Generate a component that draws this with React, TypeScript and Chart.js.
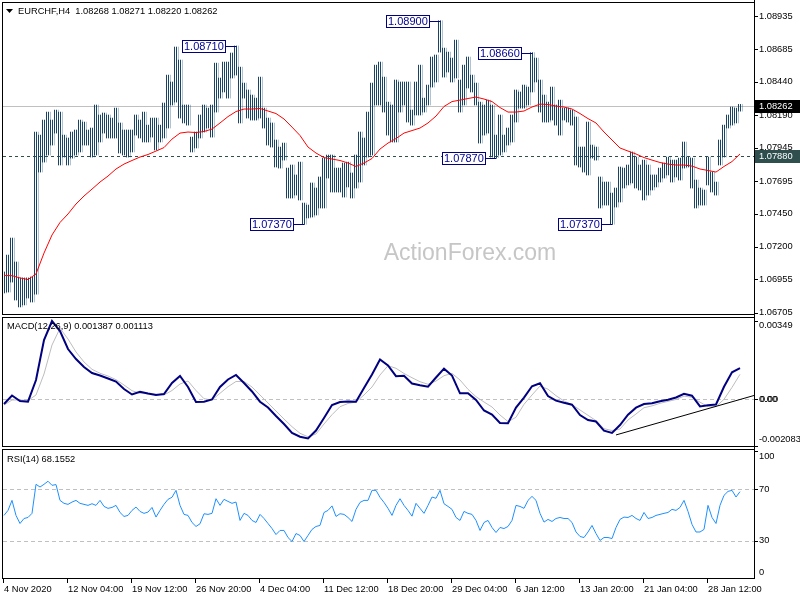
import React, { useEffect, useRef } from "react";
import { Chart, registerables } from "chart.js";

Chart.register(...registerables);

// ---------- texts ----------
const SYMBOL_HEADER = "EURCHF,H4  1.08268 1.08271 1.08220 1.08262";
const MACD_HEADER = "MACD(12,26,9) 0.001387 0.001113";
const RSI_HEADER = "RSI(14) 68.1552";
const WATERMARK = "ActionForex.com";

// ---------- price bars (each bar = one 8-hour slot, high / low) ----------
const barHigh = [
  1.07011, 1.07138, 1.07266, 1.07086, 1.06966, 1.06966, 1.06966, 1.06973, 1.08063, 1.0804,
  1.08153, 1.08213, 1.08153, 1.08228, 1.08213, 1.0804, 1.08018, 1.08063, 1.08078, 1.08153,
  1.08138, 1.08078, 1.08093, 1.08266, 1.08191, 1.08206, 1.08191, 1.08168, 1.08243, 1.08131,
  1.08078, 1.08078, 1.08078, 1.08191, 1.08153, 1.08213, 1.08115, 1.08168, 1.08168, 1.08115,
  1.08281, 1.08491, 1.08439, 1.08702, 1.08604, 1.08266, 1.08266, 1.08025, 1.08063, 1.08191,
  1.08266, 1.08243, 1.08266, 1.08581, 1.08469, 1.08589, 1.08589, 1.08657, 1.0871, 1.08551,
  1.08431, 1.08379, 1.08341, 1.08318, 1.08476, 1.08243, 1.08168, 1.08131, 1.08003, 1.0795,
  1.0798, 1.07792, 1.07815, 1.0774, 1.07837, 1.07529, 1.07514, 1.0768, 1.07642, 1.07725,
  1.07867, 1.0789, 1.0789, 1.07792, 1.07792, 1.0783, 1.07837, 1.07755, 1.0789, 1.08063,
  1.08018, 1.08213, 1.08431, 1.08566, 1.08589, 1.08476, 1.08288, 1.08266, 1.08454, 1.08439,
  1.08439, 1.08439, 1.08228, 1.08439, 1.08566, 1.08318, 1.08416, 1.08627, 1.08642, 1.089,
  1.08694, 1.08664, 1.08619, 1.08754, 1.08454, 1.08566, 1.08627, 1.08491, 1.08431, 1.08288,
  1.08266, 1.08303, 1.08266, 1.0804, 1.08191, 1.0804, 1.08093, 1.08191, 1.08379, 1.08364,
  1.08416, 1.08401, 1.0866, 1.08619, 1.08454, 1.08341, 1.08288, 1.08401, 1.08266, 1.08303,
  1.08243, 1.08243, 1.08228, 1.08176, 1.0795, 1.0795, 1.08138, 1.07965, 1.0795, 1.07725,
  1.07687, 1.07687, 1.07604, 1.07642, 1.078, 1.07792, 1.07815, 1.07913, 1.07875, 1.07815,
  1.07852, 1.07815, 1.0774, 1.0774, 1.07792, 1.0783, 1.07875, 1.07852, 1.07852, 1.07867,
  1.07988, 1.07875, 1.07867, 1.07702, 1.07642, 1.07627, 1.07875, 1.07762, 1.07687, 1.08003,
  1.08115, 1.08191, 1.08251, 1.08243, 1.08271,
];
const barLow = [
  1.06853, 1.0686, 1.06935, 1.068, 1.06748, 1.06763, 1.06815, 1.06785, 1.06845, 1.07762,
  1.07837, 1.0789, 1.07965, 1.08055, 1.07815, 1.07875, 1.07815, 1.07867, 1.0789, 1.07913,
  1.07965, 1.07965, 1.07875, 1.0789, 1.07988, 1.08055, 1.08018, 1.08018, 1.08018, 1.07905,
  1.0789, 1.07875, 1.07913, 1.0804, 1.08018, 1.07988, 1.07988, 1.08025, 1.07928, 1.07988,
  1.08018, 1.08093, 1.08266, 1.08288, 1.08168, 1.08131, 1.08115, 1.07913, 1.07943, 1.08018,
  1.08063, 1.08093, 1.08025, 1.08213, 1.08318, 1.08364, 1.08318, 1.08469, 1.08491, 1.08131,
  1.08318, 1.08168, 1.08153, 1.08153, 1.08168, 1.08093, 1.07965, 1.0795, 1.078, 1.07792,
  1.07852, 1.07567, 1.07567, 1.07589, 1.07552, 1.0737, 1.07417, 1.07424, 1.07439, 1.07492,
  1.07492, 1.07717, 1.07612, 1.07612, 1.07612, 1.07574, 1.0765, 1.07567, 1.07642, 1.07687,
  1.07815, 1.07875, 1.0789, 1.08266, 1.08266, 1.08213, 1.0804, 1.07988, 1.07988, 1.08213,
  1.08266, 1.08138, 1.08115, 1.08191, 1.08191, 1.08213, 1.08266, 1.08401, 1.08439, 1.08664,
  1.08476, 1.08514, 1.08439, 1.08469, 1.08213, 1.08266, 1.08394, 1.08364, 1.08266, 1.0798,
  1.0804, 1.08055, 1.07875, 1.0787, 1.0789, 1.07913, 1.07965, 1.07988, 1.08138, 1.08243,
  1.08243, 1.08266, 1.08364, 1.08439, 1.08213, 1.08138, 1.08138, 1.08153, 1.08115, 1.0804,
  1.08153, 1.08138, 1.08115, 1.07815, 1.078, 1.07762, 1.0774, 1.07867, 1.07852, 1.07492,
  1.07514, 1.07514, 1.0737, 1.07499, 1.07537, 1.07642, 1.07665, 1.0768, 1.07642, 1.07627,
  1.07552, 1.07589, 1.07627, 1.0765, 1.07687, 1.07717, 1.0774, 1.07687, 1.07725, 1.07702,
  1.07792, 1.078, 1.07642, 1.07492, 1.07514, 1.07514, 1.07665, 1.07612, 1.07589, 1.07815,
  1.07875, 1.08093, 1.08115, 1.08131, 1.0822,
];

// ---------- moving average, MACD, signal (one value every 2 bars) ----------
const maValues = [
  1.06984, 1.06983, 1.06966, 1.06954, 1.06996, 1.07153, 1.07289, 1.07383, 1.07447, 1.07522,
  1.07582, 1.07634, 1.07687, 1.07732, 1.07785, 1.07822, 1.07849, 1.07875, 1.07894, 1.0792,
  1.07946, 1.0801, 1.08055, 1.08063, 1.08059, 1.08067, 1.08085, 1.08131, 1.08179, 1.08217,
  1.08236, 1.08236, 1.0824, 1.08221, 1.08202, 1.08161, 1.081, 1.08037, 1.0795, 1.07905,
  1.07871, 1.0786, 1.07849, 1.0783, 1.07804, 1.0783, 1.07864, 1.07935, 1.0798, 1.08014,
  1.08055, 1.08074, 1.08093, 1.08131, 1.08183, 1.08255, 1.08292, 1.08303, 1.08315, 1.08326,
  1.08311, 1.08292, 1.08247, 1.08213, 1.08213, 1.08221, 1.08251, 1.08273, 1.0827, 1.08258,
  1.08251, 1.08236, 1.08202, 1.08164, 1.08131, 1.08063, 1.08003, 1.07943, 1.0792, 1.07898,
  1.07871, 1.07852, 1.07834, 1.07822, 1.07815, 1.07815, 1.07807, 1.07785, 1.07774, 1.07762,
  1.07804, 1.07841, 1.07898,
];
const macdValues = [
  -0.00021, 0.000169, -0.000076, -0.000107, 0.000861, 0.002645, 0.00349, 0.003046, 0.002243, 0.001797,
  0.001441, 0.001173, 0.001061, 0.000928, 0.000794, 0.000459, 0.000214, 0.000339, 0.000259, 0.000192,
  0.000236, 0.000727, 0.001039, 0.000549, -0.00012, -0.000107, -0.000009, 0.000549, 0.000883, 0.001084,
  0.000727, 0.000348, -0.000107, -0.000366, -0.000745, -0.001102, -0.001503, -0.001668, -0.001748, -0.001392,
  -0.000834, -0.000254, -0.00012, -0.000103, -0.000112, 0.000504, 0.001106, 0.001775, 0.001507, 0.00103,
  0.001048, 0.000705, 0.000624, 0.000562, 0.000972, 0.001365, 0.001061, 0.000268, 0.000268, -0.000031,
  -0.0005, -0.000678, -0.001057, -0.00107, -0.000366, 0.000076, 0.00058, 0.000714, 0.000147, -0.000062,
  -0.000156, -0.000241, -0.0007, -0.000923, -0.00099, -0.0014, -0.001503, -0.001146, -0.000687, -0.000375,
  -0.00021, -0.000174, -0.000085, -0.000018, 0.00008, 0.000241, 0.000161, -0.000317, -0.000263, -0.000232,
  0.000558, 0.001204, 0.001387,
];
const signalValues = [
  -0.000254, -0.000031, -0.000031, -0.000054, 0.000192, 0.001128, 0.002422, 0.003167, 0.002689, 0.00211,
  0.001664, 0.001338, 0.00116, 0.001039, 0.000874, 0.000638, 0.000384, 0.000268, 0.000245, 0.000227,
  0.000192, 0.000392, 0.000682, 0.000816, 0.000392, 0.000027, -0.000031, 0.000268, 0.000562, 0.000794,
  0.000794, 0.000549, 0.000192, -0.000165, -0.000522, -0.000879, -0.001222, -0.001516, -0.001673, -0.001548,
  -0.001102, -0.000687, -0.00033, -0.000187, -0.00012, 0.000192, 0.000549, 0.001084, 0.001499, 0.001383,
  0.001151, 0.000963, 0.000785, 0.000669, 0.000816, 0.001053, 0.001155, 0.000861, 0.000446, 0.000116,
  -0.00012, -0.000343, -0.0007, -0.000995, -0.000803, -0.000223, 0.000192, 0.000593, 0.00045, 0.000161,
  -0.000076, -0.000236, -0.000477, -0.000714, -0.000954, -0.001311, -0.001392, -0.001325, -0.000923, -0.000656,
  -0.000375, -0.000294, -0.000178, -0.000094, -0.000009, 0.000143, 0.000089, -0.000129, -0.00033, -0.00033,
  0.0, 0.000531, 0.001113,
];
const trendX = [153, 187.5];
const trendY = [-0.00159, 0.00017];

// ---------- RSI (one value per bar) ----------
const rsiValues = [
  49.7, 53.6, 61.4, 49.7, 43.4, 47.3, 48.1, 51.3, 73.9, 71.8,
  73.9, 76.3, 73.1, 73.7, 61.4, 59.1, 58.3, 60.1, 61.4, 59.1,
  58.3, 57.5, 58.8, 57.5, 61.4, 56.7, 55.2, 55.9, 57.5, 52.0,
  48.9, 49.7, 53.6, 56.2, 52.8, 51.3, 52.3, 55.9, 48.4, 53.6,
  58.3, 62.2, 63.8, 69.2, 57.5, 50.5, 49.7, 44.2, 41.1, 43.2,
  51.0, 50.5, 51.3, 62.7, 57.5, 62.2, 60.6, 59.1, 60.1, 45.8,
  51.3, 49.7, 45.8, 44.2, 50.5, 47.3, 43.4, 39.5, 34.8, 38.0,
  38.0, 32.5, 29.4, 35.6, 34.1, 29.4, 34.1, 38.8, 41.1, 41.9,
  52.0, 53.6, 57.1, 48.9, 51.0, 50.5, 48.1, 45.0, 54.4, 59.8,
  61.4, 61.4, 69.2, 69.2, 63.8, 59.8, 55.2, 49.7, 57.5, 62.7,
  57.5, 53.6, 49.1, 59.1, 55.2, 51.3, 57.5, 64.0, 63.0, 69.2,
  58.8, 56.7, 54.4, 48.1, 45.8, 52.8, 51.3, 50.5, 45.8, 38.0,
  44.2, 45.8, 40.3, 36.4, 40.3, 39.5, 41.1, 45.8, 57.5, 56.7,
  55.2, 61.4, 64.5, 61.4, 51.3, 44.5, 46.6, 45.0, 47.3, 48.1,
  47.3, 47.3, 44.2, 36.8, 33.3, 32.5, 36.8, 41.9, 35.6, 30.2,
  32.5, 32.5, 31.7, 40.3, 46.6, 48.4, 48.1, 49.7, 47.3, 45.8,
  52.0, 47.3, 48.1, 49.7, 50.5, 51.3, 52.0, 54.4, 53.6, 55.9,
  61.4, 52.8, 42.7, 36.8, 36.8, 38.8, 57.5, 48.1, 43.4, 57.5,
  65.3, 68.4, 69.2, 64.0, 68.2,
];

// ---------- axes ----------
const priceTicks = [1.08935, 1.08685, 1.0844, 1.0819, 1.07945, 1.07695, 1.0745, 1.072, 1.06955, 1.06705];
const priceTickLabels = ["1.08935", "1.08685", "1.08440", "1.08190", "1.07945", "1.07695", "1.07450", "1.07200", "1.06955", "1.06705"];
const macdTickValues = [0.00349, 0, -0.002083];
const macdTickLabels = ["0.00349", "0.00", "-0.002083"];
const rsiTickValues = [100, 70, 30, 0];
const rsiTickLabels = ["100", "70", "30", "0"];
const rsiLevels = [70, 30];
const xTickLabels = [
  "4 Nov 2020", "12 Nov 04:00", "19 Nov 12:00", "26 Nov 20:00", "4 Dec 04:00", "11 Dec 12:00",
  "18 Dec 20:00", "29 Dec 04:00", "6 Jan 12:00", "13 Jan 20:00", "21 Jan 04:00", "28 Jan 12:00",
];
const BARS_PER_XTICK = 16;
const MA_STEP = 2;

const CURRENT_PRICE = 1.08262;
const CURRENT_LABEL = "1.08262";
const LEVEL_PRICE = 1.0788;
const LEVEL_LABEL = "1.07880";

// swing-point labels
const noteTexts = ["1.08710", "1.07370", "1.08900", "1.07870", "1.08660", "1.07370"];
const noteBars = [58, 75, 109, 123, 132, 152];
const notePrices = [1.0871, 1.0737, 1.089, 1.0787, 1.0866, 1.0737];

const X_MIN = -0.25;
const X_MAX = 187.5;
const PRICE_MIN = 1.06695;
const PRICE_MAX = 1.09033;
const MACD_MIN = -0.002083;
const MACD_MAX = 0.003626;
const RSI_MIN = 1;
const RSI_MAX = 100.6;

const FONT = '"Liberation Sans", Arial, sans-serif';
const BAR_COLOR = "#184466";

// each 4px bar slot is filled with 1px vertical stripes (two bar strokes per slot)
function makeStripePattern(ctx: CanvasRenderingContext2D): CanvasPattern | string {
  const pc = document.createElement("canvas");
  pc.width = 2;
  pc.height = 1;
  const pctx = pc.getContext("2d");
  if (!pctx) return BAR_COLOR;
  pctx.fillStyle = BAR_COLOR;
  pctx.fillRect(0, 0, 1, 1);
  const pat = ctx.createPattern(pc, "repeat");
  return pat || BAR_COLOR;
}

function baseOptions(padding: any, yMin: number, yMax: number): any {
  return {
    animation: false,
    responsive: false,
    devicePixelRatio: 1,
    events: [],
    layout: { padding },
    plugins: { legend: { display: false }, tooltip: { enabled: false } },
    scales: {
      x: { type: "linear", min: X_MIN, max: X_MAX, offset: false, display: false },
      y: { type: "linear", min: yMin, max: yMax, display: false },
    },
  };
}

function drawFrame(ctx: CanvasRenderingContext2D, a: any, axisTop: number, axisBottom: number) {
  ctx.save();
  ctx.strokeStyle = "#000";
  ctx.lineWidth = 1;
  ctx.setLineDash([]);
  ctx.strokeRect(a.left - 0.5, a.top - 0.5, a.right - a.left + 1, a.bottom - a.top + 1);
  ctx.beginPath();
  ctx.moveTo(a.right + 0.5, axisTop);
  ctx.lineTo(a.right + 0.5, axisBottom);
  ctx.stroke();
  ctx.restore();
}

function drawAxisLabels(
  ctx: CanvasRenderingContext2D,
  a: any,
  scale: any,
  values: number[],
  labels: string[],
  clampTop: number,
  clampBottom: number
) {
  ctx.save();
  ctx.font = "9.3px " + FONT;
  ctx.fillStyle = "#000";
  ctx.strokeStyle = "#000";
  ctx.lineWidth = 1;
  ctx.textAlign = "left";
  ctx.textBaseline = "middle";
  values.forEach((v, i) => {
    const py = scale.getPixelForValue(v);
    const ty = Math.min(Math.max(py, a.top + clampTop), a.bottom - clampBottom);
    const ry = Math.round(py) + 0.5;
    if (py >= a.top && py <= a.bottom) {
      ctx.beginPath();
      ctx.moveTo(a.right + 1, ry);
      ctx.lineTo(a.right + 4, ry);
      ctx.stroke();
    }
    ctx.fillText(labels[i], a.right + 5, ty);
  });
  ctx.restore();
}

function drawHeader(ctx: CanvasRenderingContext2D, text: string, x: number, y: number) {
  ctx.save();
  ctx.font = "9.3px " + FONT;
  ctx.fillStyle = "#000";
  ctx.textAlign = "left";
  ctx.textBaseline = "middle";
  ctx.fillText(text, x, y);
  ctx.restore();
}

function dashedLevel(ctx: CanvasRenderingContext2D, a: any, py: number, color: string, dash: number[]) {
  const ry = Math.round(py) + 0.5;
  ctx.save();
  ctx.strokeStyle = color;
  ctx.lineWidth = 1;
  ctx.setLineDash(dash);
  ctx.beginPath();
  ctx.moveTo(a.left, ry);
  ctx.lineTo(a.right, ry);
  ctx.stroke();
  ctx.restore();
}

const mainDecor = {
  id: "mainDecor",
  beforeDatasetsDraw(chart: any) {
    const { ctx, chartArea: a, scales } = chart;
    const y = scales.y;
    ctx.save();
    ctx.font = "23px " + FONT;
    ctx.fillStyle = "#c6c6c6";
    ctx.textAlign = "center";
    ctx.textBaseline = "middle";
    ctx.fillText(WATERMARK, 470, 254);
    ctx.restore();
    dashedLevel(ctx, a, y.getPixelForValue(CURRENT_PRICE), "#c0c0c0", []);
    dashedLevel(ctx, a, y.getPixelForValue(LEVEL_PRICE), "#2f4f4f", [3, 3]);
  },
  afterDraw(chart: any) {
    const { ctx, chartArea: a, scales, height } = chart;
    const x = scales.x;
    const y = scales.y;
    drawFrame(ctx, a, 0, height);
    drawAxisLabels(ctx, a, y, priceTicks, priceTickLabels, -20, -20);

    // price highlight boxes on the axis
    const boxes = [
      { v: CURRENT_PRICE, t: CURRENT_LABEL, bg: "#000000" },
      { v: LEVEL_PRICE, t: LEVEL_LABEL, bg: "#2f4f4f" },
    ];
    ctx.save();
    ctx.font = "9.3px " + FONT;
    ctx.textAlign = "left";
    ctx.textBaseline = "middle";
    boxes.forEach((b) => {
      const py = Math.round(y.getPixelForValue(b.v));
      ctx.fillStyle = b.bg;
      ctx.fillRect(a.right + 1, py - 6, 45, 13);
      ctx.fillStyle = "#ffffff";
      ctx.fillText(b.t, a.right + 5, py + 0.5);
    });
    ctx.restore();

    // swing labels
    ctx.save();
    ctx.font = "11px " + FONT;
    ctx.textBaseline = "middle";
    ctx.textAlign = "left";
    noteTexts.forEach((t, i) => {
      const bx = Math.round(x.getPixelForValue(noteBars[i]));
      const py = Math.round(y.getPixelForValue(notePrices[i]));
      const tw = ctx.measureText(t).width;
      const w = Math.round(tw + 4);
      const h = 13;
      const right = bx - 10;
      const left = right - w;
      const top = py - 6;
      ctx.fillStyle = "#ffffff";
      ctx.fillRect(left, top, w, h);
      ctx.strokeStyle = "#000080";
      ctx.lineWidth = 1;
      ctx.strokeRect(left + 0.5, top + 0.5, w - 1, h - 1);
      ctx.beginPath();
      ctx.moveTo(right, py + 0.5);
      ctx.lineTo(bx + 0.5, py + 0.5);
      ctx.stroke();
      ctx.fillStyle = "#000090";
      ctx.fillText(t, left + 2, py + 1);
    });
    ctx.restore();

    // header
    ctx.save();
    ctx.fillStyle = "#000";
    ctx.beginPath();
    ctx.moveTo(a.left + 3, a.top + 6);
    ctx.lineTo(a.left + 10, a.top + 6);
    ctx.lineTo(a.left + 6.5, a.top + 10);
    ctx.closePath();
    ctx.fill();
    ctx.restore();
    drawHeader(ctx, SYMBOL_HEADER, a.left + 15, a.top + 8);
  },
};

const macdDecor = {
  id: "macdDecor",
  beforeDatasetsDraw(chart: any) {
    const { ctx, chartArea: a, scales } = chart;
    dashedLevel(ctx, a, scales.y.getPixelForValue(0), "#c0c0c0", [4, 3]);
  },
  afterDraw(chart: any) {
    const { ctx, chartArea: a, scales, height } = chart;
    drawFrame(ctx, a, 0, height);
    drawAxisLabels(ctx, a, scales.y, macdTickValues, macdTickLabels, 7, 7);
    // the zero value is printed twice in the platform (level + value)
    ctx.save();
    ctx.font = "9.3px " + FONT;
    ctx.fillStyle = "#000";
    ctx.textBaseline = "middle";
    ctx.fillText(macdTickLabels[1], a.right + 6, scales.y.getPixelForValue(0));
    ctx.restore();
    drawHeader(ctx, MACD_HEADER, a.left + 4, a.top + 8);
  },
};

const rsiDecor = {
  id: "rsiDecor",
  beforeDatasetsDraw(chart: any) {
    const { ctx, chartArea: a, scales } = chart;
    rsiLevels.forEach((lv) => dashedLevel(ctx, a, scales.y.getPixelForValue(lv), "#c0c0c0", [4, 3]));
  },
  afterDraw(chart: any) {
    const { ctx, chartArea: a, scales } = chart;
    drawFrame(ctx, a, 0, a.bottom + 1);
    drawAxisLabels(ctx, a, scales.y, rsiTickValues, rsiTickLabels, 6, 6);
    drawHeader(ctx, RSI_HEADER, a.left + 4, a.top + 9);
    // time axis
    ctx.save();
    ctx.strokeStyle = "#000";
    ctx.lineWidth = 1;
    ctx.fillStyle = "#000";
    ctx.font = "9.3px " + FONT;
    ctx.textAlign = "left";
    ctx.textBaseline = "middle";
    xTickLabels.forEach((lab, k) => {
      const px = Math.round(scales.x.getPixelForValue(X_MIN + k * BARS_PER_XTICK));
      ctx.beginPath();
      ctx.moveTo(px + 0.5, a.bottom + 1);
      ctx.lineTo(px + 0.5, a.bottom + 5);
      ctx.stroke();
      ctx.fillText(lab, px + 1, a.bottom + 11);
    });
    ctx.restore();
  },
};

function mainConfig(ctx: CanvasRenderingContext2D): any {
  return {
    type: "bar",
    data: {
      datasets: [
        {
          type: "bar",
          data: barHigh.map((h, i) => ({ x: i, y: [barLow[i], h] })),
          backgroundColor: makeStripePattern(ctx),
          borderWidth: 0,
          barThickness: 4,
          grouped: false,
          order: 3,
        },
        {
          type: "line",
          data: maValues.map((v, k) => ({ x: k * MA_STEP, y: v })),
          borderColor: "#ff0000",
          borderWidth: 1,
          pointRadius: 0,
          tension: 0,
          fill: false,
          order: 1,
        },
      ],
    },
    options: baseOptions({ left: 3, right: 46, top: 3, bottom: 3 }, PRICE_MIN, PRICE_MAX),
    plugins: [mainDecor],
  };
}

function macdConfig(): any {
  return {
    type: "line",
    data: {
      datasets: [
        {
          data: signalValues.map((v, k) => ({ x: k * MA_STEP, y: v })),
          borderColor: "#bdbdbd",
          borderWidth: 1,
          pointRadius: 0,
          tension: 0,
          fill: false,
          order: 3,
        },
        {
          data: macdValues.map((v, k) => ({ x: k * MA_STEP, y: v })),
          borderColor: "#000080",
          borderWidth: 2,
          pointRadius: 0,
          tension: 0,
          fill: false,
          order: 2,
        },
        {
          data: trendX.map((v, k) => ({ x: v, y: trendY[k] })),
          borderColor: "#000000",
          borderWidth: 1,
          pointRadius: 0,
          fill: false,
          order: 1,
        },
      ],
    },
    options: baseOptions({ left: 3, right: 46, top: 1, bottom: 2 }, MACD_MIN, MACD_MAX),
    plugins: [macdDecor],
  };
}

function rsiConfig(): any {
  return {
    type: "line",
    data: {
      datasets: [
        {
          data: rsiValues.map((v, i) => ({ x: i, y: v })),
          borderColor: "#1e90ff",
          borderWidth: 1,
          pointRadius: 0,
          tension: 0,
          fill: false,
        },
      ],
    },
    options: baseOptions({ left: 3, right: 46, top: 2, bottom: 22 }, RSI_MIN, RSI_MAX),
    plugins: [rsiDecor],
  };
}

export default function App() {
  const mainRef = useRef<HTMLCanvasElement | null>(null);
  const macdRef = useRef<HTMLCanvasElement | null>(null);
  const rsiRef = useRef<HTMLCanvasElement | null>(null);

  useEffect(() => {
    const charts: Chart[] = [];
    if (mainRef.current) {
      const ctx = mainRef.current.getContext("2d") as CanvasRenderingContext2D;
      charts.push(new Chart(mainRef.current, mainConfig(ctx)));
    }
    if (macdRef.current) charts.push(new Chart(macdRef.current, macdConfig()));
    if (rsiRef.current) charts.push(new Chart(rsiRef.current, rsiConfig()));
    return () => charts.forEach((c) => c.destroy());
  }, []);

  return (
    <div style={{ position: "fixed", left: 0, top: 0, width: 800, height: 600, background: "#ffffff" }}>
      <canvas ref={mainRef} width={800} height={317} style={{ position: "absolute", left: 0, top: 0 }} />
      <canvas ref={macdRef} width={800} height={131} style={{ position: "absolute", left: 0, top: 317 }} />
      <canvas ref={rsiRef} width={800} height={152} style={{ position: "absolute", left: 0, top: 448 }} />
    </div>
  );
}
